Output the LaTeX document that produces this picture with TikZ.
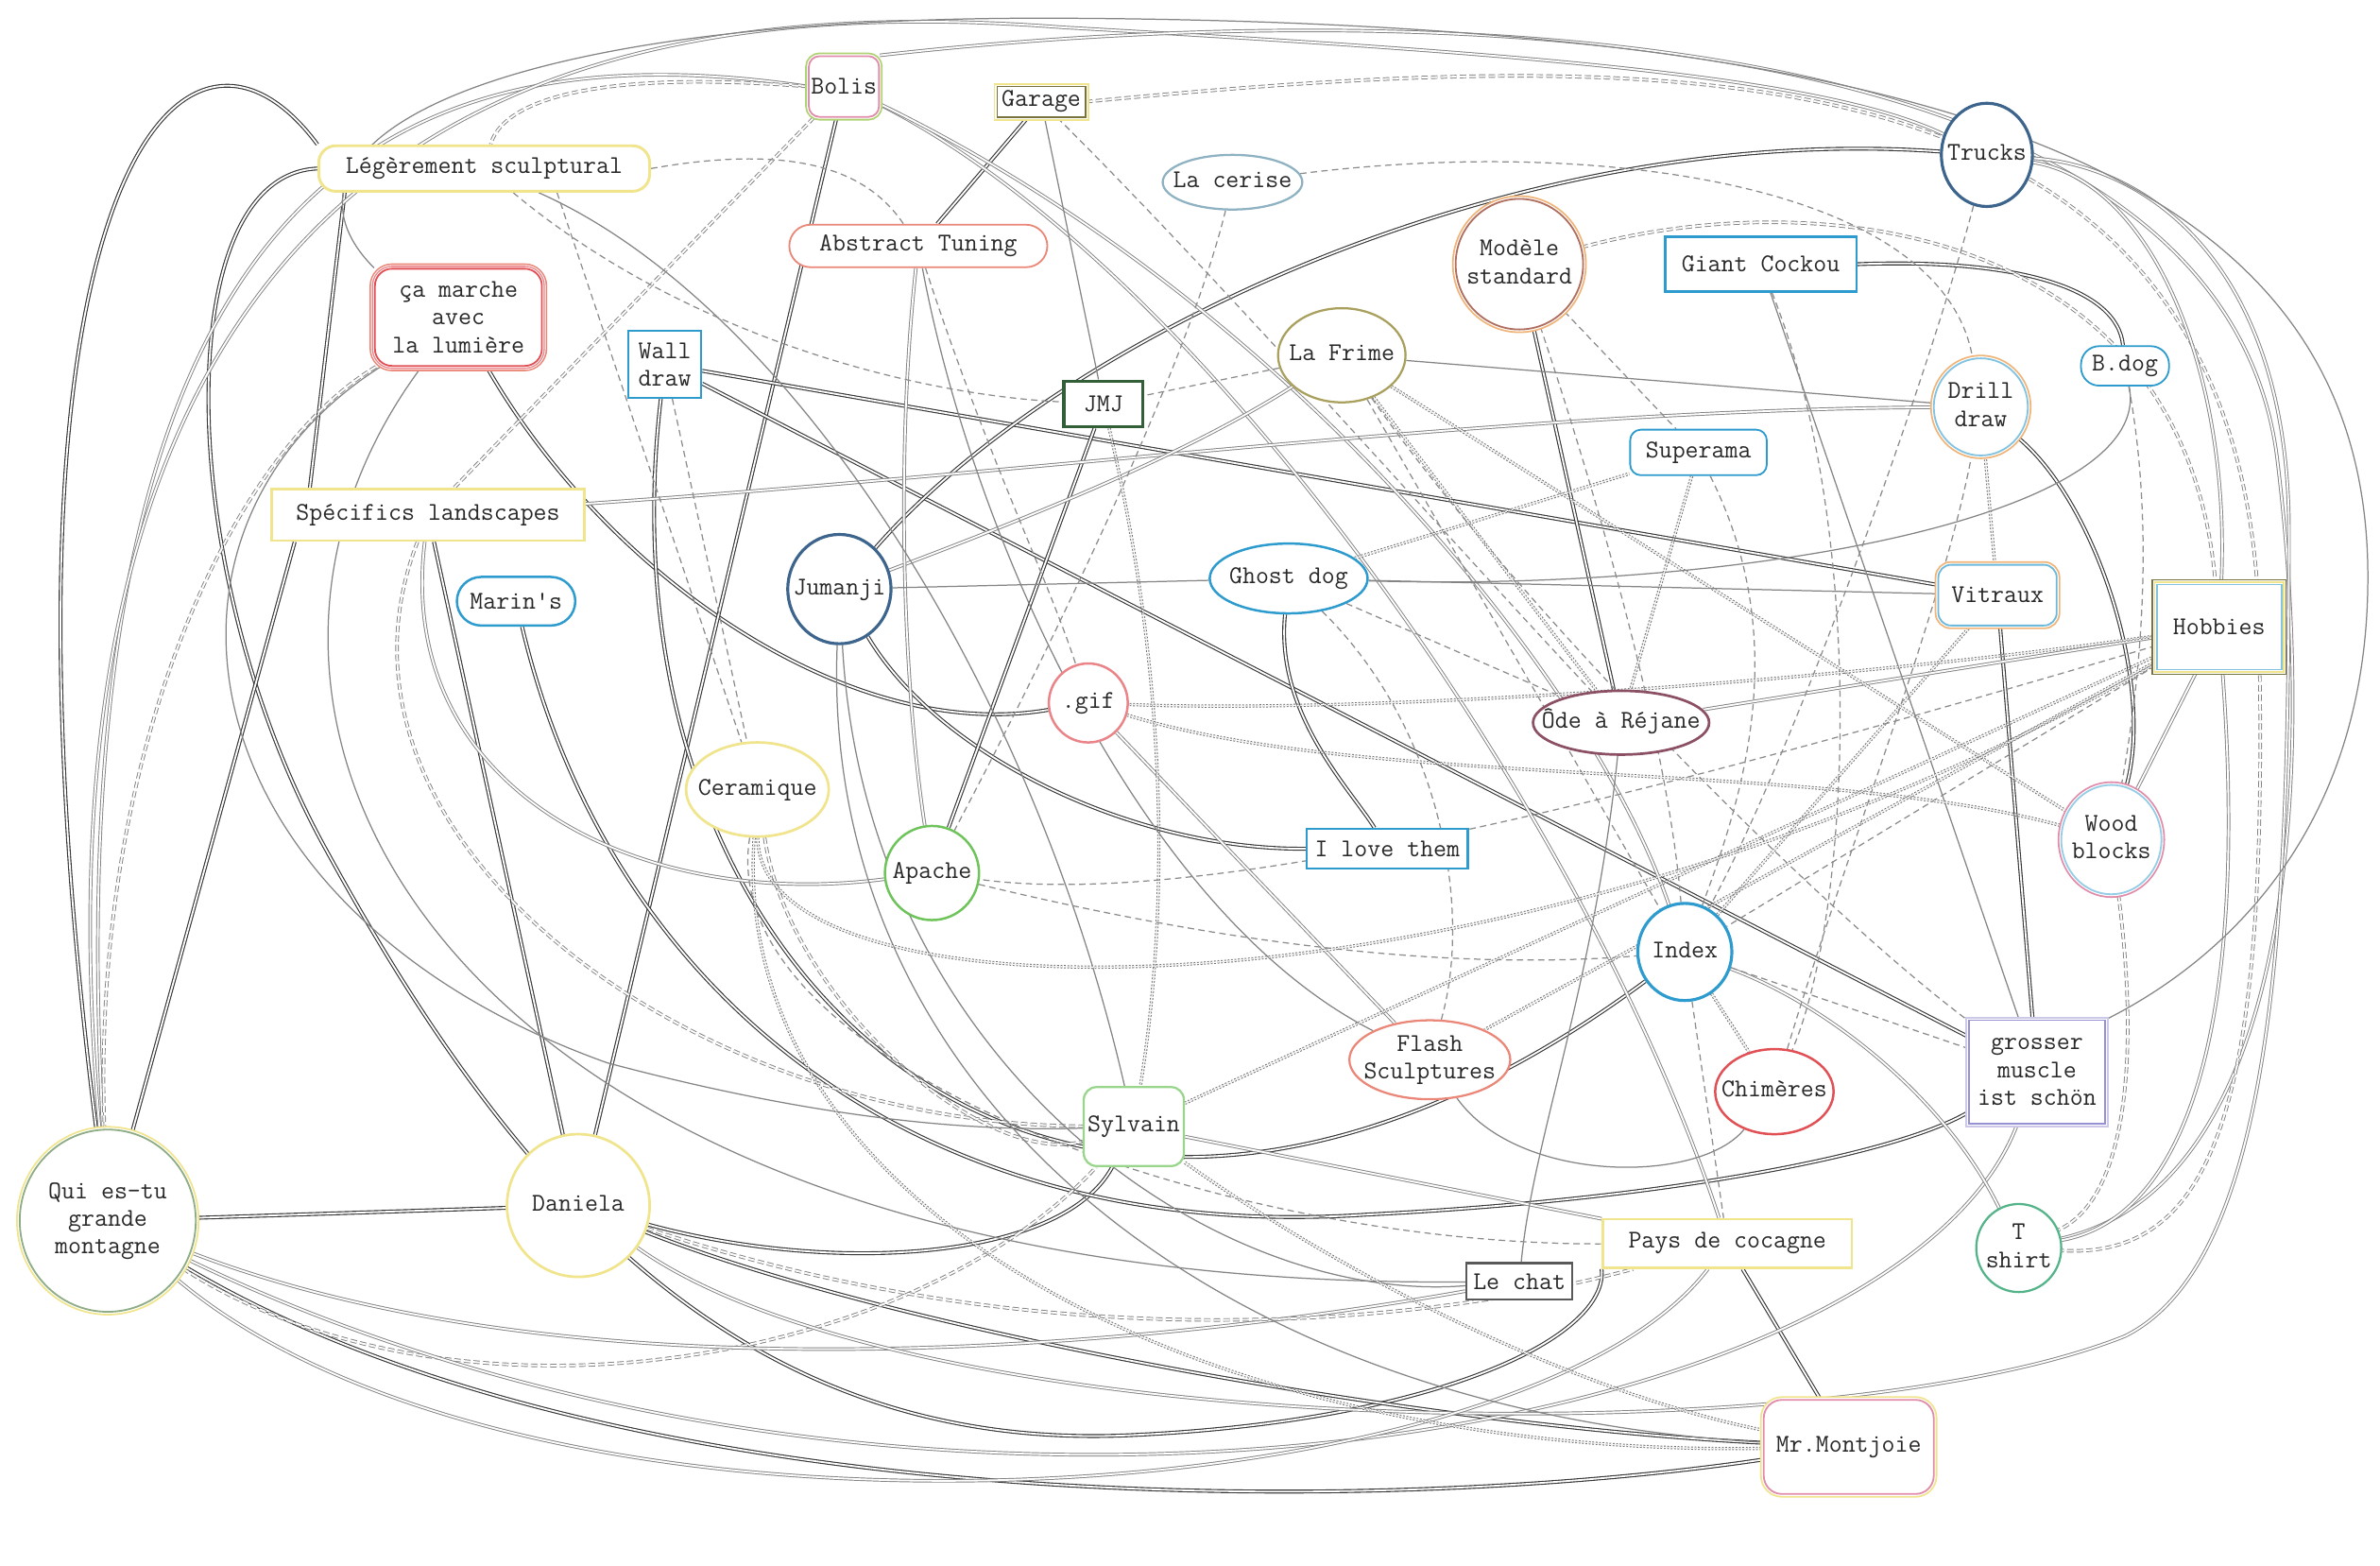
\documentclass[tikz,border=0pt]{standalone}
\usepackage{fontspec}
\usetikzlibrary{shapes.geometric}
\pgfdeclarelayer{bg}
\pgfsetlayers{bg,main}
\definecolor{cyel}{RGB}{240,228,140}
\definecolor{cblue}{RGB}{45,155,205}
\definecolor{cdblue}{RGB}{60,100,140}
\definecolor{cred}{RGB}{225,80,85}
\definecolor{csal}{RGB}{235,135,120}
\definecolor{cgreen}{RGB}{110,195,90}
\definecolor{cdgreen}{RGB}{50,95,55}
\definecolor{colive}{RGB}{120,115,60}
\definecolor{cpurp}{RGB}{150,145,210}
\definecolor{cpink}{RGB}{225,140,170}
\definecolor{cmauve}{RGB}{140,80,100}
\definecolor{cbrown}{RGB}{175,110,95}
\definecolor{corange}{RGB}{240,180,120}
\definecolor{ctext}{RGB}{40,40,40}
\newcommand\nfont{\ttfamily\fontsize{12}{13}\selectfont}
\newcommand\zw[1]{\makebox[0pt]{\begin{tabular}{@{}c@{}}#1\end{tabular}}}
\tikzset{
 nb/.style={fill=white, font=\nfont, text=ctext, align=center, inner sep=1pt, line width=0.8pt},
 rb/.style={nb, rectangle, rounded corners=#1},
 rb/.default=5pt,
 sb/.style={nb, rectangle},
 el/.style={nb, ellipse, inner sep=0pt},
 sz/.style 2 args={minimum width=#1*0.025cm, minimum height=#2*0.025cm},
 ring/.style 2 args={preaction={draw=#1, line width=3.4pt}, preaction={draw=white, line width=1.8pt}, draw=#2},
 ringiii/.style n args={3}{preaction={draw=#1, line width=5pt}, preaction={draw=white, line width=3.6pt}, preaction={draw=#2, line width=2.8pt}, preaction={draw=white,line width=1.6pt}, draw=#3},
 dk/.style={draw=black!78, line width=0.5pt, double=white, double distance=0.8pt},
 gp/.style={draw=black!48, line width=0.42pt, double=white, double distance=0.8pt},
 gpd/.style={gp, dash pattern=on 3pt off 1.5pt},
 gs/.style={draw=black!48, line width=0.55pt},
 gd/.style={draw=black!45, line width=0.55pt, dash pattern=on 3pt off 2pt},
 gt/.style={draw=black!55, line width=0.45pt, dash pattern=on 0.8pt off 0.8pt, double=white, double distance=0.6pt},
}
\begin{document}
\begin{tikzpicture}[x=0.025cm, y=-0.025cm]
\path[use as bounding box] (0,0) rectangle (1568,1031);
% nodes
\node[rb, ring={cgreen!50!cyel}{cpink}, sz={44}{40}] (bol) at (556,57) {Bolis};
\node[sb, ring={cyel}{colive}, sz={58}{20}] (gar) at (686,67) {Garage};
\node[rb=8pt, draw=cyel, line width=1.3pt, sz={218}{30}] (leg) at (319,111) {Légèrement sculptural};
\node[el, draw=black!35!cblue!50, line width=1pt, sz={92}{36}] (cer) at (812,120) {\zw{La cerise}};
\node[el, draw=cdblue, line width=1.4pt, sz={60}{68}] (tru) at (1309,102) {\zw{Trucks}};
\node[rb=0.35cm, draw=csal, sz={170}{28}] (abs) at (605,162) {Abstract Tuning};
\node[el, ring={corange}{cbrown}, sz={84}{86}] (mod) at (1001,174) {\zw{Modèle\\standard}};
\node[sb, draw=cblue, line width=1.1pt, sz={126}{36}] (gia) at (1160,174) {Giant Cockou};
\node[rb=8pt, ringiii={csal}{cred!70}{cred}, sz={110}{64}] (cam) at (302,209) {ça marche\\avec\\la lumière};
\node[sb, draw=cblue, sz={48}{44}] (wal) at (438,240) {Wall\\draw};
\node[el, draw=colive!60!cyel, line width=1pt, sz={84}{62}] (fri) at (884,234) {\zw{La Frime}};
\node[sb, draw=cdgreen, line width=1.5pt, sz={52}{30}] (jmj) at (727,266) {JMJ};
\node[el, ring={corange}{cblue!60}, sz={62}{64}] (dri) at (1305,268) {\zw{Drill\\draw}};
\node[rb=0.3cm, draw=cblue, sz={58}{26}] (bdo) at (1400,241) {B.dog};
\node[rb=5pt, draw=cblue, sz={90}{30}] (sup) at (1119,298) {Superama};
\node[sb, draw=cyel, line width=1.2pt, sz={206}{34}] (spe) at (282,339) {Spécifics landscapes};
\node[el, draw=cdblue, line width=1.4pt, sz={68}{72}] (jum) at (553,388) {\zw{Jumanji}};
\node[el, draw=cblue, line width=1.1pt, sz={104}{46}] (gho) at (849,381) {\zw{Ghost dog}};
\node[rb=0.4cm, draw=cblue, line width=1.1pt, sz={78}{32}] (mar) at (340,396) {Marin's};
\node[rb=6pt, ring={corange}{cblue!70}, sz={78}{40}] (vit) at (1316,392) {Vitraux};
\node[sb, ringiii={colive}{cyel}{cblue!60}, sz={82}{56}] (hob) at (1462,413) {Hobbies};
\node[el, draw=cred!70, line width=1.1pt, sz={52}{52}] (gif) at (717,463) {\zw{.gif}};
\node[el, draw=cmauve, line width=1.2pt, sz={116}{42}] (ode) at (1068,476) {\zw{Ôde à Réjane}};
\node[el, draw=cyel, line width=1.2pt, sz={94}{62}] (cera) at (499,520) {\zw{Ceramique}};
\node[el, ring={cpink}{cblue!50}, sz={66}{72}] (woo) at (1391,553) {\zw{Wood\\blocks}};
\node[el, draw=cgreen, line width=1.1pt, sz={62}{62}] (apa) at (614,575) {\zw{Apache}};
\node[sb, draw=cblue, line width=1.1pt, sz={106}{26}] (ilo) at (914,559) {I love them};
\node[el, draw=cblue, line width=1.4pt, sz={62}{64}] (ind) at (1110,627) {\zw{Index}};
\node[el, draw=csal, line width=1pt, sz={106}{52}] (fla) at (942,698) {\zw{Flash\\Sculptures}};
\node[el, draw=cred, line width=1.1pt, sz={78}{56}] (chi) at (1169,719) {\zw{Chimères}};
\node[sb, ring={cpurp!50}{cpurp}, sz={90}{68}] (gro) at (1342,706) {grosser\\muscle\\ist schön};
\node[rb=6pt, draw=cgreen!70, line width=1pt, sz={66}{52}] (syl) at (747,742) {Sylvain};
\node[el, ring={cyel}{black!40!cgreen!60}, sz={116}{120}] (qui) at (71,804) {\zw{Qui es-tu\\grande\\montagne}};
\node[el, draw=cyel, line width=1.2pt, sz={94}{94}] (dan) at (381,794) {\zw{Daniela}};
\node[sb, draw=cyel, line width=1.2pt, sz={164}{32}] (pay) at (1138,819) {Pays de cocagne};
\node[sb, draw=black!65, line width=1pt, sz={70}{24}] (lec) at (1001,844) {Le chat};
\node[el, draw=cgreen!60!cblue, line width=1pt, sz={56}{58}] (tsh) at (1330,822) {\zw{T\\shirt}};
\node[rb=0.3cm, ring={cyel}{cpink}, sz={112}{62}] (mon) at (1218,953) {Mr.Montjoie};

\begin{pgfonlayer}{bg}
\fill[white] (0,0) rectangle (1568,1031);
% dark pairs
\draw[dk] (qui) .. controls (-15,120) and (120,-25) .. (leg.north west);
\draw[dk] (leg.west) .. controls (110,115) and (115,380) .. (215,560) .. controls (330,770) and (480,960) .. (750,945) .. controls (950,935) and (1060,880) .. (pay.south west);
\draw[dk] (cam) .. controls (400,380) and (560,490) .. (gif);
\draw[dk] (bol) -- (dan);
\draw[dk] (wal) -- (vit);
\draw[dk] (wal) -- (gro);
\draw[dk] (wal) .. controls (390,650) and (700,930) .. (ind);
\draw[dk] (jum) .. controls (700,220) and (1000,80) .. (tru);
\draw[dk] (gia.east) .. controls (1330,170) and (1395,190) .. (bdo);
\draw[dk] (jum) .. controls (620,500) and (750,560) .. (ilo.west);
\draw[dk] (gho) .. controls (840,470) and (890,520) .. (ilo);
\draw[dk] (jmj) -- (apa);
\draw[dk] (gar) -- (abs);
\draw[dk] (mod) -- (ode);
\draw[dk] (vit) -- (gro);
\draw[dk] (dri) .. controls (1380,330) and (1420,450) .. (woo);
\draw[dk] (qui) -- (dan);
\draw[dk] (qui) .. controls (400,1000) and (900,1000) .. (mon);
\draw[dk] (dan) .. controls (600,880) and (950,940) .. (mon);
\draw[dk] (pay) -- (mon);
\draw[dk] (dan) .. controls (550,840) and (700,830) .. (syl);
\draw[dk] (mar) .. controls (400,650) and (600,820) .. (900,800) .. controls (1100,790) and (1250,760) .. (gro);
\draw[dk] (spe) -- (dan);
\draw[dk] ([xshift=0.4cm]spe.south west) -- (qui);
\draw[dk] ([xshift=0.45cm]leg.south west) -- ([xshift=0.65cm]spe.north west);
% gray pairs
\draw[gp] (bol.west) .. controls (250,15) and (35,130) .. (qui);
\draw[gp] (qui) .. controls (5,60) and (400,-5) .. (700,18) .. controls (1000,35) and (1200,50) .. (tru);
\draw[gp] (bol) .. controls (800,180) and (1050,550) .. (pay);
\draw[gp] (bol) .. controls (850,200) and (1050,450) .. (ind);
\draw[gpd] (bol.west) .. controls (380,45) and (330,70) .. (leg);
\draw[gpd] (bol) -- (spe);
\draw[gp] (bol.north east) .. controls (900,0) and (1460,0) .. (1500,300) .. controls (1525,500) and (1515,780) .. (tsh);
\draw[gpd] (gar.east) .. controls (1100,30) and (1470,20) .. (1488,400) .. controls (1495,700) and (1470,830) .. (tsh);
\draw[gp] (tru) .. controls (1420,120) and (1470,250) .. (hob);
\draw[gpd] (mod) .. controls (1200,120) and (1440,150) .. (hob);
\draw[gp] (spe) .. controls (700,310) and (1000,270) .. (dri);
\draw[gp] (spe) .. controls (260,520) and (420,600) .. (apa);
\draw[gpd] (spe) .. controls (200,550) and (450,740) .. (syl);
\draw[gp] (jum) .. controls (680,340) and (780,300) .. (fri);
\draw[gp] (gif) -- (fla);
\draw[gpd] (cam) .. controls (150,300) and (60,500) .. (qui);
\draw[gpd] (qui) .. controls (300,950) and (600,900) .. (syl);
\draw[gp] (qui) .. controls (400,930) and (800,880) .. (lec);
\draw[gp] (gro) .. controls (1250,950) and (600,1060) .. (qui);
\draw[gp] (dan) .. controls (600,950) and (1200,960) .. (1400,880) .. controls (1500,830) and (1508,600) .. (1508,350) .. controls (1508,180) and (1420,110) .. (tru);
\draw[gp] (syl) -- (pay);
\draw[gp] (ind) .. controls (1200,660) and (1280,720) .. (tsh);
\draw[gt] (ind) -- (vit);
\draw[gt] (dri) -- (vit);
\draw[gp] (hob) -- (ode);
\draw[gp] (hob) .. controls (1480,650) and (1450,800) .. (tsh);
\draw[gp] (hob) -- (woo);
\draw[gt] (jmj) .. controls (770,450) and (770,600) .. (syl);
\draw[gp] (abs) .. controls (590,300) and (595,450) .. (apa);
\draw[gpd] (woo) .. controls (1410,700) and (1400,790) .. (tsh);
\draw[gt] (fri) -- (woo);
\draw[gpd] (dan) .. controls (700,900) and (950,870) .. (pay);
\draw[gp] (qui) .. controls (350,1040) and (1000,1000) .. (pay);
\draw[gpd] (cera) .. controls (520,660) and (650,770) .. (syl);
% gray solid
\draw[gs] (cam.north west) .. controls (170,100) and (300,10) .. (700,12) .. controls (1300,15) and (1560,120) .. (1560,380) .. controls (1560,560) and (1450,640) .. (gro.north east);
\draw[gs] (gar) -- (jmj);
\draw[gs] (leg) .. controls (520,200) and (680,450) .. (syl);
\draw[gs] (cam) .. controls (80,350) and (120,600) .. (400,700) .. controls (550,740) and (650,745) .. (syl);
\draw[gs] (cam) .. controls (100,480) and (300,850) .. (lec);
\draw[gs] (jum) -- (gho);
\draw[gs] (gho) -- (vit);
\draw[gs] (fri) -- (dri);
\draw[gs] (bdo) .. controls (1420,340) and (1150,390) .. (gho);
\draw[gs] (gia) -- (gro);
\draw[gs] (fla) .. controls (1000,780) and (1120,780) .. (chi);
\draw[gs] (abs) .. controls (640,350) and (750,600) .. (fla);
\draw[gs] (jum) .. controls (570,700) and (800,860) .. (lec);
\draw[gs] (ode) .. controls (1050,650) and (1010,750) .. (lec);
\draw[gs] (jum) .. controls (540,720) and (800,930) .. (mon);
% gray dashed
\draw[gd] (leg.east) .. controls (520,95) and (570,110) .. (abs);
\draw[gd] (leg) .. controls (450,220) and (600,260) .. (jmj);
\draw[gd] ([xshift=1.2cm]leg.south) -- (cera);
\draw[gd] (wal) -- (cera);
\draw[gd] (gar) .. controls (800,180) and (950,350) .. (ode);
\draw[gd] (cer) .. controls (1050,90) and (1280,120) .. (dri);
\draw[gd] (cer) .. controls (780,250) and (680,450) .. (apa);
\draw[gd] (abs) .. controls (650,300) and (690,380) .. (gif);
\draw[gd] (fri) -- (jmj);
\draw[gd] (fri) -- (ind);
\draw[gd] (fri) .. controls (1000,400) and (1200,600) .. (gro);
\draw[gd] (mod) .. controls (1060,350) and (1100,500) .. (ind);
\draw[gd] (mod) -- (sup);
\draw[gd] (tru) .. controls (1270,250) and (1180,500) .. (ind);
\draw[gd] (gia) .. controls (1230,350) and (1220,600) .. (chi);
\draw[gd] (chi) .. controls (1220,550) and (1280,400) .. (dri);
\draw[gd] (bdo) .. controls (1420,350) and (1410,450) .. (woo);
\draw[gd] (ind) -- (gro);
\draw[gd] (ind) -- (pay);
\draw[gd] (apa) .. controls (800,620) and (950,640) .. (ind);
\draw[gd] (gho) .. controls (950,480) and (970,600) .. (fla);
\draw[gd] (hob) -- (ind);
\draw[gd] (cera) .. controls (470,700) and (800,820) .. (pay);
\draw[gd] (hob) .. controls (1100,520) and (800,600) .. (apa);
\draw[gd] (gho) -- (ode);
\draw[gd] (sup) .. controls (1180,420) and (1150,520) .. (ind);
% dotted
\draw[gt] (sup) -- (ode);
\draw[gt] (gho) -- (sup);
\draw[gt] (ind) -- (chi);
\draw[gt] (gif) .. controls (900,520) and (1200,500) .. (woo);
\draw[gt] (hob) .. controls (1200,450) and (900,470) .. (gif);
\draw[gt] (syl) -- (hob);
\draw[gt] (cera) .. controls (500,680) and (1000,680) .. (hob);
\draw[gt] (syl) .. controls (900,850) and (1050,920) .. (mon);
\draw[gt] (cera) .. controls (480,800) and (800,960) .. (mon);
\draw[gt] (hob) -- (fla);
\draw[gt] (fri) -- (ode);
\end{pgfonlayer}
\end{tikzpicture}
\end{document}
